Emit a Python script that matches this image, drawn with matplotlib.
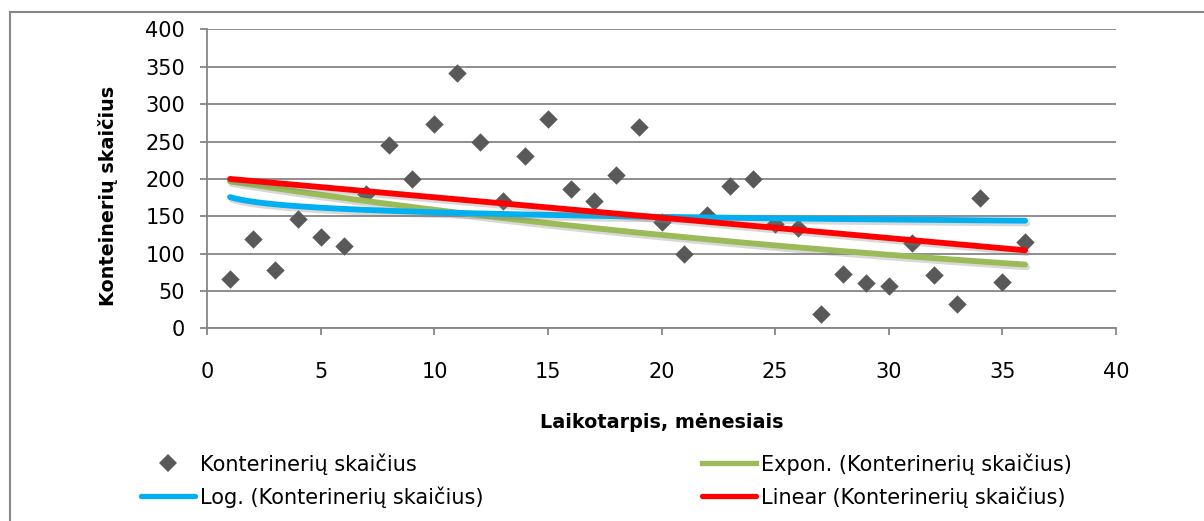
import numpy as np
import matplotlib
matplotlib.use("Agg")
import matplotlib.pyplot as plt
import matplotlib.patheffects as pe
from matplotlib.lines import Line2D

plt.rcParams['font.family'] = ['DejaVu Sans']

# monthly container counts
months = np.arange(1, 37)
counts = [66, 120, 78, 146, 122, 110, 180, 246, 200, 273, 342, 250,
          170, 230, 280, 186, 170, 205, 270, 142, 100, 152, 190, 200,
          140, 134, 19, 72, 60, 56, 114, 71, 32, 174, 62, 116]

series_name = 'Konterinerių skaičius'
y_label = 'Konteinerių skaičius'
x_label = 'Laikotarpis, mėnesiais'

x_ticks = [0, 5, 10, 15, 20, 25, 30, 35, 40]
y_ticks = [0, 50, 100, 150, 200, 250, 300, 350, 400]

grey = '#868686'
c_pts, c_exp, c_log, c_lin = '#595959', '#9BBB59', '#00B0F0', '#FF0000'

x = np.array(months, dtype=float)
y = np.array(counts, dtype=float)

# least-squares trend lines (same kinds as the spreadsheet offers)
lin = np.polyfit(x, y, 1)
ex = np.polyfit(x, np.log(y), 1)
lg = np.polyfit(np.log(x), y, 1)
xs = np.linspace(x.min(), x.max(), 300)
y_lin = np.polyval(lin, xs)
y_exp = np.exp(np.polyval(ex, xs))
y_log = np.polyval(lg, np.log(xs))

fig = plt.figure(figsize=(12.04, 5.21), dpi=100)
ax = fig.add_axes([0.1722, 0.3699, 0.7547, 0.5735])

shadow = [pe.SimpleLineShadow(offset=(1.5, -2), shadow_color='#7f7f7f', alpha=0.3),
          pe.Normal()]

ax.scatter(x, y, marker='D', s=88, color=c_pts, zorder=3, linewidths=0)
ax.plot(xs, y_exp, color=c_exp, lw=4.2, zorder=4, solid_capstyle='round',
        path_effects=shadow)
ax.plot(xs, y_log, color=c_log, lw=4.2, zorder=5, solid_capstyle='round',
        path_effects=shadow)
ax.plot(xs, y_lin, color=c_lin, lw=4.2, zorder=6, solid_capstyle='round',
        path_effects=shadow)

ax.set_xlim(0, 40)
ax.set_ylim(0, 400)
ax.set_xticks(x_ticks)
ax.set_yticks(y_ticks)
ax.yaxis.grid(True, color=grey, lw=1.3)
ax.set_axisbelow(True)

for s in ['top', 'right']:
    ax.spines[s].set_visible(False)
for s in ['left', 'bottom']:
    ax.spines[s].set_color(grey)
    ax.spines[s].set_linewidth(1.3)

ax.tick_params(axis='x', direction='out', length=5, width=1.3, color=grey,
               labelsize=15, pad=19)
ax.tick_params(axis='y', direction='out', length=5, width=1.3, color=grey,
               labelsize=15, pad=11)

ax.set_ylabel(y_label, fontsize=13.8, fontweight='bold')
ax.yaxis.set_label_coords(-0.109, 0.443)
ax.set_xlabel(x_label, fontsize=13.8, fontweight='bold')
ax.xaxis.set_label_coords(0.5, -0.314)
ax.xaxis.label.set_va('center')
ax.yaxis.label.set_va('center')

# legend handles without the shadow
h_pts = Line2D([], [], ls='none', marker='D', ms=9.4, color=c_pts, mew=0)
h_exp = Line2D([], [], color=c_exp, lw=3.8)
h_log = Line2D([], [], color=c_log, lw=3.8, solid_capstyle='round')
h_lin = Line2D([], [], color=c_lin, lw=3.8, solid_capstyle='round')

leg_kw = dict(loc='upper left', frameon=False, fontsize=15,
              handlelength=2.6, handletextpad=0.25, labelspacing=0.55,
              borderaxespad=0, borderpad=0)
fig.legend([h_pts, h_log], [series_name, 'Log. (' + series_name + ')'],
           bbox_to_anchor=(0.117, 0.13), **leg_kw)
fig.legend([h_exp, h_lin], ['Expon. (' + series_name + ')',
                            'Linear (' + series_name + ')'],
           bbox_to_anchor=(0.583, 0.13), **leg_kw)

# outer chart frame (left and top edges)
fig.add_artist(Line2D([0.0079, 0.0079], [0.0, 0.977], color=grey, lw=1.5,
                      transform=fig.transFigure))
fig.add_artist(Line2D([0.0079, 1.0], [0.977, 0.977], color=grey, lw=1.5,
                      transform=fig.transFigure))

fig.savefig('out.png', dpi=100)
